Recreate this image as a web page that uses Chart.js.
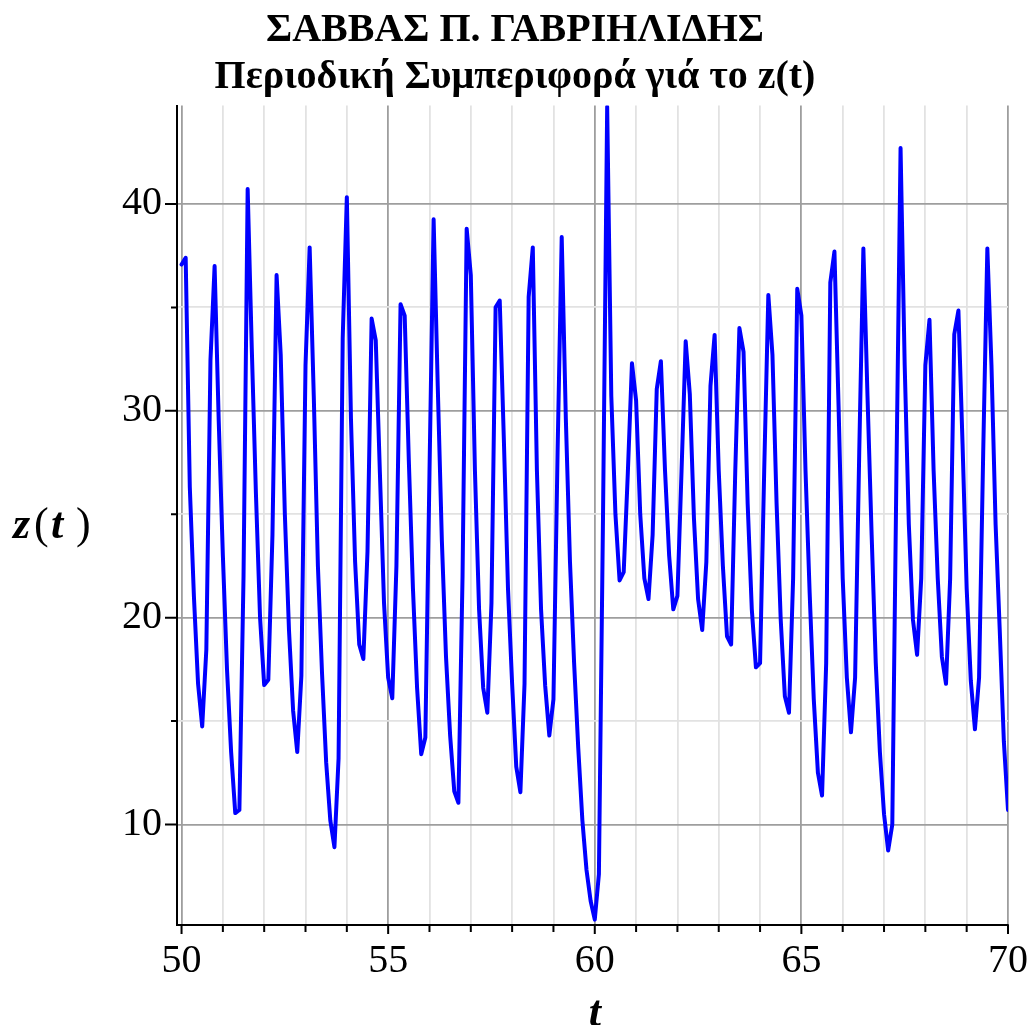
<!DOCTYPE html>
<html>
<head>
<meta charset="utf-8">
<script src="https://cdn.jsdelivr.net/npm/chart.js@4.4.1/dist/chart.umd.min.js"></script>
<style>
  html, body { margin: 0; padding: 0; background: #ffffff; }
  canvas { display: block; }
</style>
</head>
<body>
<canvas id="plot" width="1030" height="1025"></canvas>
<script>
// Title lines
const TITLE_LINES = ['ΣΑΒΒΑΣ Π. ΓΑΒΡΙΗΛΙΔΗΣ', 'Περιοδική Συμπεριφορά γιά το z(t)'];

// Sample times t
const T_VALUES = [
  50.0, 50.1, 50.2, 50.3, 50.4, 50.5, 50.6, 50.7, 50.8, 50.9,
  51.0, 51.1, 51.2, 51.3, 51.4, 51.5, 51.6, 51.7, 51.8, 51.9,
  52.0, 52.1, 52.2, 52.3, 52.4, 52.5, 52.6, 52.7, 52.8, 52.9,
  53.0, 53.1, 53.2, 53.3, 53.4, 53.5, 53.6, 53.7, 53.8, 53.9,
  54.0, 54.1, 54.2, 54.3, 54.4, 54.5, 54.6, 54.7, 54.8, 54.9,
  55.0, 55.1, 55.2, 55.3, 55.4, 55.5, 55.6, 55.7, 55.8, 55.9,
  56.0, 56.1, 56.2, 56.3, 56.4, 56.5, 56.6, 56.7, 56.8, 56.9,
  57.0, 57.1, 57.2, 57.3, 57.4, 57.5, 57.6, 57.7, 57.8, 57.9,
  58.0, 58.1, 58.2, 58.3, 58.4, 58.5, 58.6, 58.7, 58.8, 58.9,
  59.0, 59.1, 59.2, 59.3, 59.4, 59.5, 59.6, 59.7, 59.8, 59.9,
  60.0, 60.1, 60.2, 60.3, 60.4, 60.5, 60.6, 60.7, 60.8, 60.9,
  61.0, 61.1, 61.2, 61.3, 61.4, 61.5, 61.6, 61.7, 61.8, 61.9,
  62.0, 62.1, 62.2, 62.3, 62.4, 62.5, 62.6, 62.7, 62.8, 62.9,
  63.0, 63.1, 63.2, 63.3, 63.4, 63.5, 63.6, 63.7, 63.8, 63.9,
  64.0, 64.1, 64.2, 64.3, 64.4, 64.5, 64.6, 64.7, 64.8, 64.9,
  65.0, 65.1, 65.2, 65.3, 65.4, 65.5, 65.6, 65.7, 65.8, 65.9,
  66.0, 66.1, 66.2, 66.3, 66.4, 66.5, 66.6, 66.7, 66.8, 66.9,
  67.0, 67.1, 67.2, 67.3, 67.4, 67.5, 67.6, 67.7, 67.8, 67.9,
  68.0, 68.1, 68.2, 68.3, 68.4, 68.5, 68.6, 68.7, 68.8, 68.9,
  69.0, 69.1, 69.2, 69.3, 69.4, 69.5, 69.6, 69.7, 69.8, 69.9,
  70.0
];

// z(t) at each sample time
const Z_VALUES = [
  37.07, 37.4, 26.3, 21.0, 16.8, 14.74, 18.46, 32.45, 37.0, 29.5,
  23.0, 17.5, 13.5, 10.55, 10.7, 22.0, 40.72, 33.0, 26.0, 20.0,
  16.74, 17.0, 24.0, 36.56, 32.7, 25.0, 19.4, 15.5, 13.5, 17.2,
  32.2, 37.9, 30.7, 22.5, 17.3, 13.0, 10.2, 8.9, 13.2, 33.5,
  40.33, 29.6, 22.7, 18.7, 18.0, 23.2, 34.46, 33.4, 27.0, 20.7,
  17.1, 16.1, 22.5, 35.15, 34.6, 27.6, 21.4, 16.6, 13.4, 14.2,
  27.0, 39.26, 31.2, 23.7, 18.1, 14.3, 11.6, 11.05, 22.0, 38.8,
  36.56, 27.1, 20.4, 16.6, 15.4, 20.7, 35.0, 35.33, 28.6, 21.4,
  16.8, 12.8, 11.56, 16.8, 35.5, 37.9, 27.1, 20.4, 16.7, 14.3,
  16.05, 28.0, 38.4, 29.6, 22.7, 17.8, 13.7, 10.2, 7.8, 6.3,
  5.4, 7.6, 25.0, 44.7, 30.7, 25.0, 21.8, 22.2, 27.0, 32.3,
  30.5, 25.0, 21.9, 20.9, 24.0, 31.05, 32.4, 27.1, 23.0, 20.4,
  21.05, 27.1, 33.36, 30.8, 24.8, 20.9, 19.4, 22.7, 31.2, 33.67,
  27.1, 22.5, 19.1, 18.7, 27.1, 34.0, 32.85, 25.5, 20.4, 17.6,
  17.8, 27.1, 35.6, 32.7, 25.5, 19.9, 16.2, 15.4, 21.9, 35.9,
  34.6, 27.1, 21.2, 16.05, 12.5, 11.4, 17.8, 36.2, 37.7, 30.2,
  21.9, 17.1, 14.46, 17.1, 28.0, 37.85, 30.7, 24.0, 17.8, 13.5,
  10.5, 8.74, 10.0, 27.0, 42.7, 32.2, 24.5, 19.9, 18.2, 21.9,
  32.2, 34.4, 27.1, 21.9, 18.1, 16.8, 21.9, 33.7, 34.85, 28.4,
  21.4, 16.95, 14.6, 17.1, 28.0, 37.85, 32.2, 24.5, 19.4, 14.0,
  10.7
];

// Axis ticks (every tick gets a grid line; only the labelled ones are major)
const X_TICKS = [50, 51, 52, 53, 54, 55, 56, 57, 58, 59, 60, 61, 62, 63, 64, 65, 66, 67, 68, 69, 70];
const X_TICK_LABELS = ['50', '55', '60', '65', '70'];
const Y_TICKS = [10, 15, 20, 25, 30, 35, 40];
const Y_TICK_LABELS = ['10', '20', '30', '40'];

const SERIF = '"Liberation Serif", "Times New Roman", Times, serif';
const MAJOR_GRID = '#9e9e9e';
const MINOR_GRID = '#e2e2e2';

const isMajorX = v => X_TICK_LABELS.includes(String(v));
const isMajorY = v => Y_TICK_LABELS.includes(String(v));

// Tick marks below / left of the axes and the axis names
const axisDecor = {
  id: 'axisDecor',
  afterDraw(chart) {
    const { ctx, chartArea: a, scales: { x, y } } = chart;
    ctx.save();
    ctx.strokeStyle = '#000';
    ctx.lineWidth = 2;
    ctx.beginPath();
    X_TICKS.forEach(v => {
      const px = x.getPixelForValue(v);
      const len = isMajorX(v) ? 9 : 7;
      ctx.moveTo(px, a.bottom);
      ctx.lineTo(px, a.bottom + len);
    });
    Y_TICKS.forEach(v => {
      const py = y.getPixelForValue(v);
      const len = isMajorY(v) ? 12 : 6;
      ctx.moveTo(a.left - len, py);
      ctx.lineTo(a.left, py);
    });
    ctx.stroke();

    ctx.fillStyle = '#000';
    ctx.textBaseline = 'alphabetic';
    ctx.textAlign = 'left';
    // vertical axis name: z(t)
    const base = (a.top + a.bottom) / 2 + 23;
    const parts = [
      ['z', 'italic bold 44px ' + SERIF, 13],
      ['(', '44px ' + SERIF, 34],
      ['t', 'italic bold 44px ' + SERIF, 51],
      [')', '44px ' + SERIF, 76]
    ];
    parts.forEach(([txt, font, px]) => {
      ctx.font = font;
      ctx.fillText(txt, px, base);
    });
    // horizontal axis name: t
    ctx.textAlign = 'center';
    ctx.font = 'italic bold 44px ' + SERIF;
    const cx = (x.getPixelForValue(X_TICKS[0]) + x.getPixelForValue(X_TICKS[X_TICKS.length - 1])) / 2;
    ctx.fillText('t', cx, 1026);
    ctx.restore();
  }
};

new Chart(document.getElementById('plot'), {
  type: 'line',
  data: {
    datasets: [{
      data: T_VALUES.map((t, i) => ({ x: t, y: Z_VALUES[i] })),
      borderColor: '#0000ff',
      borderWidth: 4,
      borderJoinStyle: 'round',
      borderCapStyle: 'round',
      pointRadius: 0,
      tension: 0,
      fill: false
    }]
  },
  options: {
    responsive: false,
    animation: false,
    devicePixelRatio: 1,
    layout: { padding: 0 },
    plugins: {
      legend: { display: false },
      tooltip: { enabled: false },
      title: {
        display: true,
        text: TITLE_LINES,
        color: '#000',
        font: { family: SERIF, size: 40, weight: 'bold', lineHeight: 1.175 },
        padding: { top: 7.5, bottom: 4 }
      }
    },
    scales: {
      x: {
        type: 'linear',
        bounds: 'data',
        min: 49.89,
        max: 70,
        afterBuildTicks: s => { s.ticks = X_TICKS.map(v => ({ value: v })); },
        // fixed axis band height; room on the right for the last label
        afterFit: s => { s.height = 100; s.paddingLeft = 0; s.paddingRight = 22; },
        grid: {
          drawTicks: false,
          color: c => (isMajorX(c.tick.value) ? MAJOR_GRID : MINOR_GRID),
          lineWidth: 1.8
        },
        border: { display: true, color: '#000', width: 2 },
        ticks: {
          autoSkip: false,
          maxRotation: 0,
          padding: 12,
          color: '#000',
          font: { family: SERIF, size: 40 },
          callback: v => (isMajorX(v) ? String(v) : '')
        }
      },
      y: {
        type: 'linear',
        bounds: 'data',
        min: 5.14,
        max: 44.76,
        afterBuildTicks: s => { s.ticks = Y_TICKS.map(v => ({ value: v })); },
        afterFit: s => { s.width = 177; s.paddingTop = 0; s.paddingBottom = 0; },
        grid: {
          drawTicks: false,
          color: c => (isMajorY(c.tick.value) ? MAJOR_GRID : MINOR_GRID),
          lineWidth: 1.8
        },
        border: { display: true, color: '#000', width: 2 },
        ticks: {
          autoSkip: false,
          padding: 15,
          color: '#000',
          font: { family: SERIF, size: 40 },
          callback: v => (isMajorY(v) ? String(v) : '')
        }
      }
    }
  },
  plugins: [axisDecor]
});
</script>
</body>
</html>
